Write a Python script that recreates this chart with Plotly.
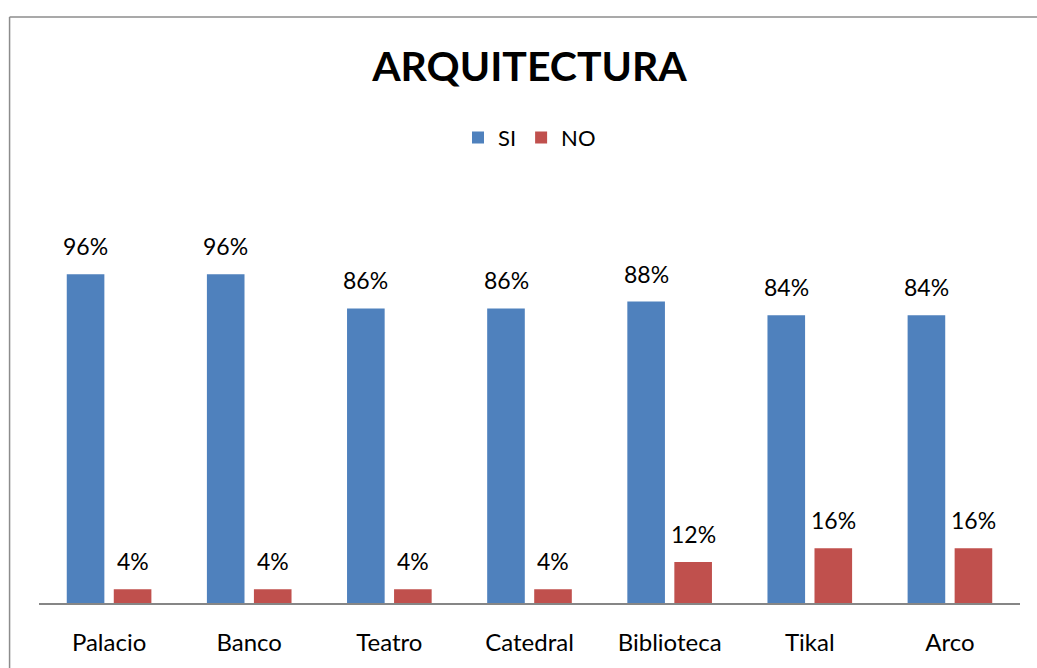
import plotly.graph_objects as go

categorias = ["Palacio", "Banco", "Teatro", "Catedral", "Biblioteca", "Tikal", "Arco"]
si = [0.96, 0.96, 0.86, 0.86, 0.88, 0.84, 0.84]
no = [0.04, 0.04, 0.04, 0.04, 0.12, 0.16, 0.16]

AZUL = "#4F81BD"
ROJO = "#C0504D"
FUENTE = "Lato"

fig = go.Figure()
fig.add_trace(go.Bar(x=categorias, y=si, name="SI", marker=dict(color=AZUL, line=dict(width=0))))
fig.add_trace(go.Bar(x=categorias, y=no, name="NO", marker=dict(color=ROJO, line=dict(width=0))))

# etiquetas de datos encima de cada barra
anots = []
for serie, dx in ((si, -23.5), (no, 23.5)):
    for c, v in zip(categorias, serie):
        anots.append(dict(x=c, y=v, text=f"{round(v * 100)}%", showarrow=False,
                          xshift=dx, yshift=12, yanchor="bottom",
                          font=dict(family=FUENTE, size=23, color="#000000")))

fig.update_layout(
    width=1037, height=668,
    barmode="group", bargap=0.329, bargroupgap=0.2,
    plot_bgcolor="#FFFFFF", paper_bgcolor="#FFFFFF",
    margin=dict(l=39, r=17, t=192, b=60),
    font=dict(family=FUENTE, size=22, color="#000000"),
    title=dict(text="<b>ARQUITECTURA</b>", xref="paper", x=0.5, xanchor="center",
               y=0.9, yanchor="middle",
               font=dict(family=FUENTE, size=41, color="#000000")),
    legend=dict(orientation="h", x=0.5, xanchor="center", y=1.132, yanchor="middle",
                font=dict(family=FUENTE, size=22), itemwidth=30),
    xaxis=dict(showline=True, linecolor="#868686", linewidth=1.5, showgrid=False,
               ticks="", ticklabelstandoff=17, tickfont=dict(family=FUENTE, size=24)),
    yaxis=dict(range=[0, 1.2], visible=False, showgrid=False, zeroline=False),
    annotations=anots,
    shapes=[
        dict(type="line", xref="paper", yref="paper", x0=-0.030, x1=-0.030, y0=-0.3, y1=1.4255,
             line=dict(color="#8C8C8C", width=1.5)),
        dict(type="line", xref="paper", yref="paper", x0=-0.030, x1=1.05, y0=1.4255, y1=1.4255,
             line=dict(color="#8C8C8C", width=1.5)),
    ],
)

fig.write_html("out.html", config={"displayModeBar": False},
               post_script="document.body.style.margin='0';")
